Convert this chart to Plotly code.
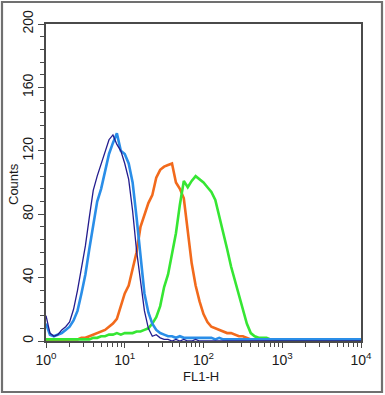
import plotly.graph_objects as go

# FL1-H channel positions (log10 decades) and counts
log_fl1 = [round(i * 0.05, 2) for i in range(81)]

navy_counts = [16, 5, 3, 4, 7, 9, 12, 20, 32, 45,
               60, 78, 95, 104, 112, 120, 127, 130, 124, 120,
               112, 102, 82, 57, 36, 19, 8, 3, 4, 2,
               1, 1, 0, 1, 0, 1, 0, 0, 1, 0,
               0, 0, 0, 0, 0, 0, 0, 0, 0, 0,
               0, 0, 0, 0, 0, 0, 0, 0, 0, 0,
               0, 0, 0, 0, 0, 0, 0, 0, 0, 0,
               0, 0, 0, 0, 0, 0, 0, 0, 0, 0, 0]

blue_counts = [11, 4, 3, 4, 5, 7, 9, 13, 19, 30,
               42, 58, 72, 88, 96, 108, 118, 125, 131, 120,
               118, 112, 100, 78, 52, 30, 18, 11, 7, 5,
               4, 3, 3, 2, 3, 2, 2, 2, 2, 2,
               2, 2, 2, 1, 2, 1, 1, 1, 1, 1,
               1, 1, 1, 1, 1, 1, 1, 1, 1, 1,
               1, 1, 1, 1, 1, 1, 1, 1, 1, 1,
               1, 1, 1, 1, 1, 1, 1, 1, 1, 1, 1]

orange_counts = [0, 0, 0, 0, 0, 0, 1, 1, 1, 2,
                 2, 3, 4, 5, 6, 7, 9, 11, 14, 22,
                 30, 35, 45, 56, 72, 80, 87, 92, 103, 108,
                 110, 111, 112, 100, 96, 90, 70, 49, 35, 25,
                 17, 12, 9, 8, 7, 6, 5, 5, 4, 3,
                 3, 2, 1, 1, 1, 1, 0, 1, 0, 0,
                 0, 0, 0, 0, 0, 0, 0, 0, 0, 0,
                 0, 0, 0, 0, 0, 0, 0, 0, 0, 0, 0]

green_counts = [1, 1, 1, 1, 1, 1, 1, 1, 1, 1,
                1, 1, 2, 2, 3, 3, 4, 4, 5, 4,
                5, 5, 5, 6, 6, 7, 8, 11, 15, 22,
                34, 42, 54, 68, 86, 101, 97, 101, 104, 102,
                100, 97, 94, 89, 79, 68, 58, 47, 38, 30,
                21, 11, 5, 3, 2, 2, 2, 1, 1, 1,
                1, 1, 1, 1, 1, 1, 1, 1, 1, 1,
                1, 1, 1, 1, 1, 1, 1, 1, 1, 1, 1]

fl1_values = [10 ** v for v in log_fl1]

x_major = [1, 10, 100, 1000, 10000]
x_major_text = ["10<sup>0</sup>", "10<sup>1</sup>", "10<sup>2</sup>",
                "10<sup>3</sup>", "10<sup>4</sup>"]
x_minor = [m * 10 ** k for k in range(4) for m in range(2, 10)]
y_major = [0, 40, 80, 120, 160, 200]
x_title = "FL1-H"
y_title = "Counts"

fig = go.Figure()
series = [
    (orange_counts, "#f26a1c", 2.6),
    (green_counts, "#36e633", 2.6),
    (blue_counts, "#2a8ee8", 2.6),
    (navy_counts, "#231c8e", 1.3),
]
for counts, color, width in series:
    fig.add_trace(go.Scatter(x=fl1_values, y=counts, mode="lines",
                             line=dict(color=color, width=width),
                             showlegend=False, hoverinfo="skip"))

axis_color = "#4a4a4a"
text_color = "#1a1a1a"
fig.update_layout(
    width=385, height=395,
    margin=dict(l=46, r=24, t=24, b=54, autoexpand=False),
    paper_bgcolor="white", plot_bgcolor="white",
    font=dict(family="Liberation Sans, Arial, sans-serif", size=13, color=text_color),
    xaxis=dict(type="log", range=[0, 4], showgrid=False, zeroline=False,
               automargin=False,
               showline=True, linecolor=axis_color, linewidth=1.6, mirror=True,
               ticks="outside", ticklen=5, tickcolor=axis_color, tickwidth=1.2,
               tickvals=x_major, ticktext=x_major_text, tickfont=dict(size=14),
               minor=dict(tickvals=x_minor, ticks="outside", ticklen=4,
                          tickcolor=axis_color, tickwidth=1)),
    yaxis=dict(range=[0, 200], showgrid=False, zeroline=False,
               automargin=False,
               showline=True, linecolor=axis_color, linewidth=1.6, mirror=True,
               ticks="outside", ticklen=6, tickcolor=axis_color, tickwidth=1.2,
               tickvals=y_major, tickangle=-90, tickfont=dict(size=14),
               minor=dict(dtick=8, ticks="outside", ticklen=4,
                          tickcolor=axis_color, tickwidth=1)),
    annotations=[
        dict(text=x_title, xref="paper", yref="paper", x=(201 - 46) / 315,
             y=(341 - 376) / 317, xanchor="center", yanchor="middle",
             showarrow=False, font=dict(size=13, color=text_color)),
        dict(text=y_title, xref="paper", yref="paper", x=(13 - 46) / 315,
             y=(341 - 184) / 317, xanchor="center", yanchor="middle",
             textangle=-90, showarrow=False, font=dict(size=13, color=text_color)),
    ],
    shapes=[dict(type="rect", xref="paper", yref="paper",
                 x0=(2 - 46) / 315, x1=(382 - 46) / 315,
                 y0=(341 - 392) / 317, y1=(341 - 2) / 317,
                 line=dict(color="#707070", width=2.2), layer="above")],
)

fig.write_html("out.html", config={"displayModeBar": False},
               post_script="document.body.style.margin='0';"
                           "document.body.style.padding='0';")
